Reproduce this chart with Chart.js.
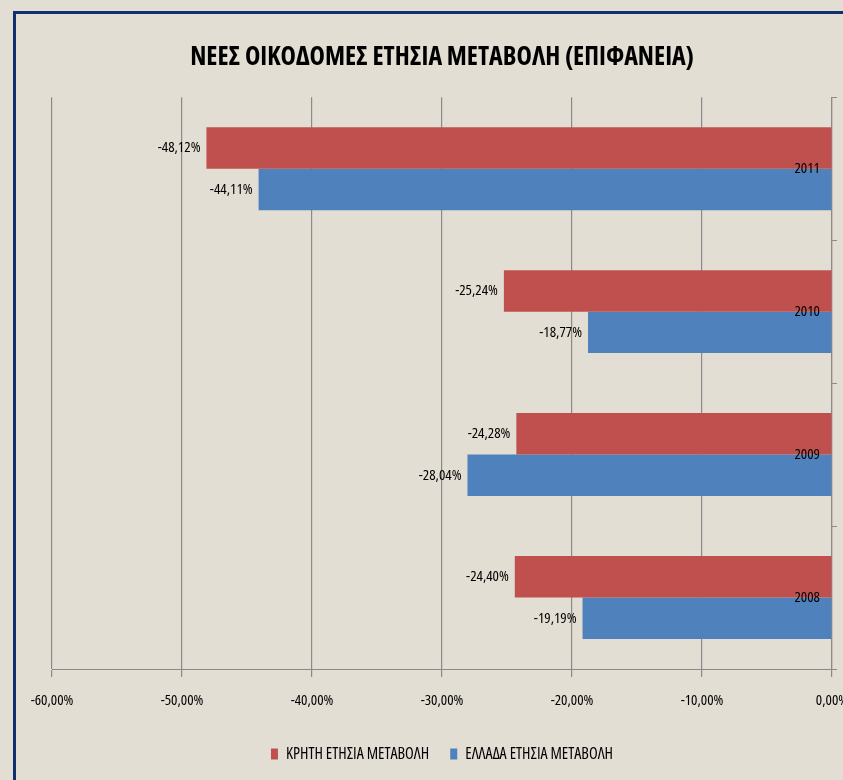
<!DOCTYPE html>
<html>
<head>
<meta charset="utf-8">
<script src="https://cdn.jsdelivr.net/npm/chart.js@4"></script>
<style>
  html, body { margin: 0; padding: 0; background: #e3ded3; overflow: hidden; width: 843px; height: 780px; }
  #frame { position: absolute; left: 13px; top: 11px; right: -20px; bottom: -20px;
           border-left: 3px solid #10306f; border-top: 3px solid #10306f; }
  #myChart { position: absolute; left: 0; top: 0; }
</style>
</head>
<body>
<div id="frame"></div>
<canvas id="myChart" width="880" height="780"></canvas>
<script>
const years = ['2011', '2010', '2009', '2008'];
const creteChange = [-48.12, -25.24, -24.28, -24.40];
const greeceChange = [-44.11, -18.77, -28.04, -19.19];
const xTicks = [-60, -50, -40, -30, -20, -10, 0];

// Open Sans has a condensed width, close to the squeezed Calibri look
const family = "'Open Sans', sans-serif";
const pct = v => v.toFixed(2).replace('.', ',') + '%';

// value labels left of each bar end, year labels over the bars next to the axis
const barLabels = {
    id: 'barLabels',
    afterDatasetsDraw(chart) {
        const c = chart.ctx;
        c.save();
        c.font = "condensed 15px " + family;
        c.fillStyle = '#000';
        c.textAlign = 'right';
        c.textBaseline = 'middle';
        chart.data.datasets.forEach((ds, i) => {
            chart.getDatasetMeta(i).data.forEach((bar, j) => {
                c.fillText(pct(ds.data[j]), bar.x - 6, bar.y);
            });
        });
        const y = chart.scales.y;
        y.ticks.forEach((t, i) => {
            c.fillText(y.getLabelForValue(t.value), y.left - 12, y.getPixelForTick(i));
        });
        c.restore();
    }
};

const ctx = document.getElementById('myChart');

new Chart(ctx, {
    type: 'bar',
    data: {
        labels: years,
        datasets: [{
            label: 'ΚΡΗΤΗ ΕΤΗΣΙΑ ΜΕΤΑΒΟΛΗ',
            data: creteChange,
            backgroundColor: '#c0504d',
            borderWidth: 0,
        }, {
            label: 'ΕΛΛΑΔΑ ΕΤΗΣΙΑ ΜΕΤΑΒΟΛΗ',
            data: greeceChange,
            backgroundColor: '#4f81bd',
            borderWidth: 0,
        }]
    },
    plugins: [barLabels],
    options: {
        responsive: false,
        animation: false,
        indexAxis: 'y',
        categoryPercentage: 0.58,
        barPercentage: 1.0,
        layout: {
            padding: { left: 52, right: 48, top: 0, bottom: 8 }
        },
        plugins: {
            title: {
                display: true,
                text: 'ΝΕΕΣ ΟΙΚΟΔΟΜΕΣ ΕΤΗΣΙΑ ΜΕΤΑΒΟΛΗ (ΕΠΙΦΑΝΕΙΑ)',
                color: '#000',
                font: { family: family, size: 26, weight: 'bold condensed' },
                padding: { top: 42, bottom: 24 }
            },
            legend: {
                position: 'bottom',
                labels: {
                    color: '#000',
                    font: { family: family, size: 16, weight: 'condensed' },
                    boxWidth: 7,
                    boxHeight: 11,
                    padding: 21
                }
            },
            tooltip: { enabled: false }
        },
        scales: {
            x: {
                min: -60,
                max: 0,
                afterBuildTicks: scale => { scale.ticks = xTicks.map(v => ({ value: v })); },
                grid: { color: '#8a8a8a', tickLength: 8, lineWidth: 1.2 },
                border: { color: '#8a8a8a' },
                ticks: {
                    color: '#000',
                    font: { family: family, size: 15, weight: 'condensed' },
                    padding: 15,
                    callback: v => pct(v)
                }
            },
            y: {
                position: 'right',
                grid: { offset: true, drawOnChartArea: false, color: '#8a8a8a', tickLength: 5 },
                border: { color: '#8a8a8a', width: 1.2 },
                ticks: { display: false },
                afterFit: scale => { scale.width = 0; }
            }
        }
    }
});
</script>
</body>
</html>
